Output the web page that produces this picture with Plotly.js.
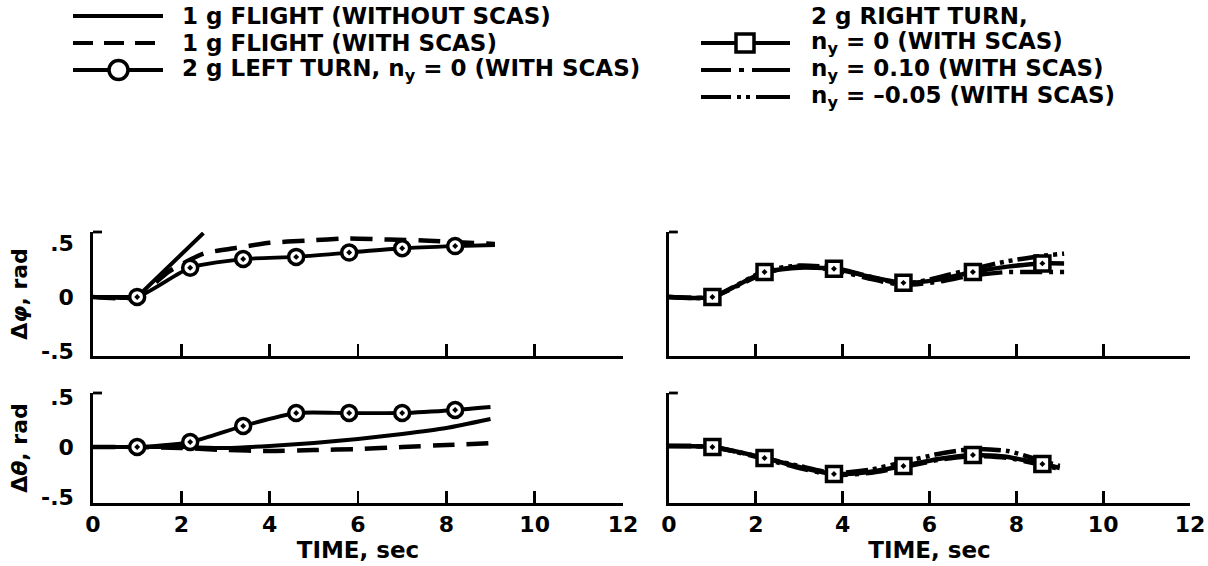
<!DOCTYPE html>
<html><head><meta charset="utf-8">
<script src="https://cdn.plot.ly/plotly-3.0.1.min.js"></script>
<style>html,body{margin:0;padding:0;background:#fff;}#chart{width:1208px;height:566px;}</style>
</head><body><div id="chart"></div>
<script>
// ---------- DATA ----------
const seriesNames = [
  "1 g FLIGHT (WITHOUT SCAS)",
  "1 g FLIGHT (WITH SCAS)",
  "2 g LEFT TURN, n<sub>y</sub> = 0 (WITH SCAS)",
  "n<sub>y</sub> = 0 (WITH SCAS)",
  "n<sub>y</sub> = 0.10 (WITH SCAS)",
  "n<sub>y</sub> = \u20130.05 (WITH SCAS)"
];
const rightTurnHeader = "2 g RIGHT TURN,";
const xTickVals = [0, 2, 4, 6, 8, 10, 12];
const xTickText = ["0", "2", "4", "6", "8", "10", "12"];
const yTickVals = [-0.5, 0, 0.5];
const yTickText = ["-.5", "0", ".5"];

// Left panels: 1 g flight and 2 g left turn
const noScasPhiT = [0, 1.0, 2.5];
const noScasPhi  = [0, 0, 0.59];
const scasPhiT = [0, 1.0, 1.7, 2.5, 3.2, 4.0, 4.8, 5.8, 6.7, 7.6, 8.5, 9.1];
const scasPhi  = [0, 0, 0.23, 0.40, 0.45, 0.50, 0.52, 0.54, 0.53, 0.52, 0.50, 0.49];
const leftTurnPhiT = [0, 1.0, 2.2, 3.4, 4.6, 5.8, 7.0, 8.2, 9.1];
const leftTurnPhi  = [0, 0, 0.27, 0.35, 0.37, 0.41, 0.45, 0.47, 0.48];
const leftTurnMarkT   = [1.0, 2.2, 3.4, 4.6, 5.8, 7.0, 8.2];
const leftTurnPhiMark = [0, 0.27, 0.35, 0.37, 0.41, 0.45, 0.47];

const noScasThetaT = [0, 1, 2, 3, 4, 5, 6, 7, 8, 9.0];
const noScasTheta  = [0, 0, 0, -0.01, 0.01, 0.04, 0.08, 0.13, 0.19, 0.28];
const scasThetaT = [0, 1, 2, 3, 4, 5, 6, 7, 8, 9.1];
const scasTheta  = [0, 0, -0.01, -0.03, -0.04, -0.03, -0.02, 0, 0.02, 0.04];
const leftTurnThetaT = [0, 1.0, 2.2, 3.4, 4.6, 5.8, 7.0, 8.2, 9.0];
const leftTurnTheta  = [0, 0, 0.05, 0.21, 0.34, 0.34, 0.34, 0.37, 0.40];
const leftTurnThetaMark = [0, 0.05, 0.21, 0.34, 0.34, 0.34, 0.37];

// Right panels: 2 g right turn
const rightT = [0, 1.0, 2.2, 3.0, 3.8, 4.6, 5.4, 6.2, 7.0, 7.8, 8.6, 9.1];
const rightN0Phi    = [0, 0, 0.23, 0.27, 0.26, 0.19, 0.13, 0.16, 0.23, 0.28, 0.31, 0.31];
const rightN010Phi  = [0, 0, 0.22, 0.28, 0.25, 0.17, 0.11, 0.14, 0.20, 0.23, 0.23, 0.23];
const rightNm005Phi = [0, 0, 0.24, 0.29, 0.27, 0.19, 0.12, 0.18, 0.26, 0.33, 0.38, 0.40];
const rightThetaT = [0, 1.0, 2.2, 3.0, 3.8, 4.6, 5.4, 6.2, 7.0, 7.8, 8.6, 9.0];
const rightN0Theta    = [0.01, 0, -0.11, -0.20, -0.27, -0.25, -0.19, -0.12, -0.08, -0.10, -0.17, -0.21];
const rightN010Theta  = [0.01, 0, -0.12, -0.21, -0.28, -0.26, -0.20, -0.13, -0.09, -0.11, -0.18, -0.22];
const rightNm005Theta = [0.01, 0, -0.11, -0.19, -0.26, -0.23, -0.15, -0.07, -0.02, -0.04, -0.14, -0.19];
const rightMarkT = [1.0, 2.2, 3.8, 5.4, 7.0, 8.6];
const rightN0PhiMark   = [0, 0.23, 0.26, 0.13, 0.23, 0.31];
const rightN0ThetaMark = [0, -0.11, -0.27, -0.19, -0.08, -0.17];

// ---------- STYLE ----------
const W = 1208, H = 566;
const FONT = "DejaVu Sans, Liberation Sans, Arial, sans-serif";
const X = px => px / W;
const Y = py => 1 - py / H;
const DASH = "22px,12px";
const DASHDOT = "22px,7px,4px,7px";
const DASHDOTDOT = "22px,5px,4px,5px,4px,5px";

function line(x, y, xa, ya, dash, width, shape) {
  return {x: x, y: y, xaxis: xa, yaxis: ya, mode: "lines", showlegend: false, hoverinfo: "skip",
    line: {color: "#000", width: width || 3.8, dash: dash || "solid", shape: shape || "spline", smoothing: 0.6}};
}
function marks(x, y, xa, ya, sym, size) {
  return {x: x, y: y, xaxis: xa, yaxis: ya, mode: "markers", showlegend: false, hoverinfo: "skip",
    marker: {symbol: sym, size: size, color: "#fff", line: {color: "#000", width: 3.5}}};
}

const traces = [
  Object.assign(line(scasPhiT, scasPhi, "x", "y", DASH, 4.5), {name: seriesNames[1]}),
  Object.assign(line(noScasPhiT, noScasPhi, "x", "y", "solid", 4, "linear"), {name: seriesNames[0]}),
  Object.assign(line(leftTurnPhiT, leftTurnPhi, "x", "y"), {name: seriesNames[2]}),
  marks(leftTurnMarkT, leftTurnPhiMark, "x", "y", "circle-dot", 15),
  Object.assign(line(scasThetaT, scasTheta, "x3", "y3", DASH, 4.5), {name: seriesNames[1]}),
  Object.assign(line(noScasThetaT, noScasTheta, "x3", "y3", "solid", 4), {name: seriesNames[0]}),
  Object.assign(line(leftTurnThetaT, leftTurnTheta, "x3", "y3"), {name: seriesNames[2]}),
  marks(leftTurnMarkT, leftTurnThetaMark, "x3", "y3", "circle-dot", 15),
  Object.assign(line(rightT, rightN010Phi, "x2", "y2", DASHDOT, 4.5), {name: seriesNames[4]}),
  Object.assign(line(rightT, rightNm005Phi, "x2", "y2", DASHDOTDOT, 4.5), {name: seriesNames[5]}),
  Object.assign(line(rightT, rightN0Phi, "x2", "y2", "solid", 4.5), {name: seriesNames[3]}),
  marks(rightMarkT, rightN0PhiMark, "x2", "y2", "square-dot", 15),
  Object.assign(line(rightThetaT, rightN010Theta, "x4", "y4", DASHDOT, 4.5), {name: seriesNames[4]}),
  Object.assign(line(rightThetaT, rightNm005Theta, "x4", "y4", DASHDOTDOT, 4.5), {name: seriesNames[5]}),
  Object.assign(line(rightThetaT, rightN0Theta, "x4", "y4", "solid", 4.5), {name: seriesNames[3]}),
  marks(rightMarkT, rightN0ThetaMark, "x4", "y4", "square-dot", 15)
];

const tickFont = {family: FONT, size: 22, color: "#000", weight: "bold"};
function xax(domain, anchor, labels) {
  const a = {domain: domain, anchor: anchor, range: [0, 12], showline: true, linecolor: "#000", linewidth: 2.8,
    ticks: "inside", ticklen: 12, tickwidth: 2.8, tickcolor: "#000", tickvals: xTickVals, ticktext: xTickText,
    showticklabels: labels, tickfont: tickFont, ticklabeloverflow: "allow",
    showgrid: false, zeroline: false, fixedrange: true};
  if (labels) a.title = {text: "TIME, sec", font: {family: FONT, size: 23, color: "#000", weight: "bold"}, standoff: 2};
  return a;
}
function yax(domain, anchor, range, labels, title) {
  const a = {domain: domain, anchor: anchor, range: range, showline: true, linecolor: "#000", linewidth: 2.8,
    ticks: "", tickvals: yTickVals, ticktext: yTickText, showticklabels: labels, tickfont: tickFont,
    ticklabelstandoff: 12, showgrid: false, zeroline: false, fixedrange: true};
  if (title) a.title = {text: title, font: {family: FONT, size: 22, color: "#000", weight: "bold"}, standoff: 8};
  return a;
}
const leftDom = [X(93), X(623)], rightDom = [X(669), X(1190)];
const topDom = [Y(356), Y(232)], botDom = [Y(503), Y(393)];
const topRange = [-0.546, 0.6], botRange = [-0.56, 0.54];

const shapes = [];
[["x", "y"], ["x2", "y2"], ["x3", "y3"], ["x4", "y4"]].forEach(([xa, ya]) => {
  shapes.push({type: "line", xref: xa + " domain", yref: ya + " domain", x0: 0, x1: 0.017, y0: 1, y1: 1,
    line: {color: "#000", width: 2.8}});
});

// legend keys (paper coordinates)
function keyLine(x0, x1, yc, dash) {
  shapes.push({type: "line", xref: "paper", yref: "paper", x0: X(x0), x1: X(x1), y0: Y(yc), y1: Y(yc),
    line: {color: "#000", width: 4, dash: dash}});
}
keyLine(73, 163, 16, "solid");
keyLine(73, 163, 43, "20px,11px");
keyLine(73, 163, 70, "solid");
shapes.push({type: "circle", xref: "paper", yref: "paper", x0: X(109), x1: X(128), y0: Y(79.5), y1: Y(60.5),
  fillcolor: "#fff", line: {color: "#000", width: 3.5}});
keyLine(701, 790, 43, "solid");
shapes.push({type: "rect", xref: "paper", yref: "paper", x0: X(736), x1: X(754), y0: Y(52), y1: Y(34),
  fillcolor: "#fff", line: {color: "#000", width: 3.5}});
keyLine(701, 790, 70, "30px,8px,5px,8px,40px");
keyLine(701, 790, 97, "30px,6px,4px,5px,4px,6px,40px");

const legFont = {family: FONT, size: 23, color: "#000", weight: "bold"};
function txt(px, py, t) {
  return {xref: "paper", yref: "paper", x: X(px), y: Y(py), xanchor: "left", yanchor: "middle",
    text: t, showarrow: false, font: legFont};
}
const annotations = [
  txt(180, 16, seriesNames[0]),
  txt(180, 43, seriesNames[1]),
  txt(180, 70, seriesNames[2]),
  txt(809, 16, rightTurnHeader),
  txt(809, 43, seriesNames[3]),
  txt(809, 70, seriesNames[4]),
  txt(809, 97, seriesNames[5])
];

const layout = {
  width: W, height: H, margin: {l: 0, r: 0, t: 0, b: 0}, paper_bgcolor: "#fff", plot_bgcolor: "#fff",
  showlegend: false, font: {family: FONT, color: "#000"},
  xaxis: xax(leftDom, "y", false),
  yaxis: yax(topDom, "x", topRange, true, "\u0394<i>\u03c6</i>, rad"),
  xaxis2: xax(rightDom, "y2", false),
  yaxis2: yax(topDom, "x2", topRange, false, null),
  xaxis3: xax(leftDom, "y3", true),
  yaxis3: yax(botDom, "x3", botRange, true, "\u0394<i>\u03b8</i>, rad"),
  xaxis4: xax(rightDom, "y4", true),
  yaxis4: yax(botDom, "x4", botRange, false, null),
  shapes: shapes, annotations: annotations
};
Plotly.newPlot("chart", traces, layout, {staticPlot: true, displayModeBar: false});
</script></body></html>
